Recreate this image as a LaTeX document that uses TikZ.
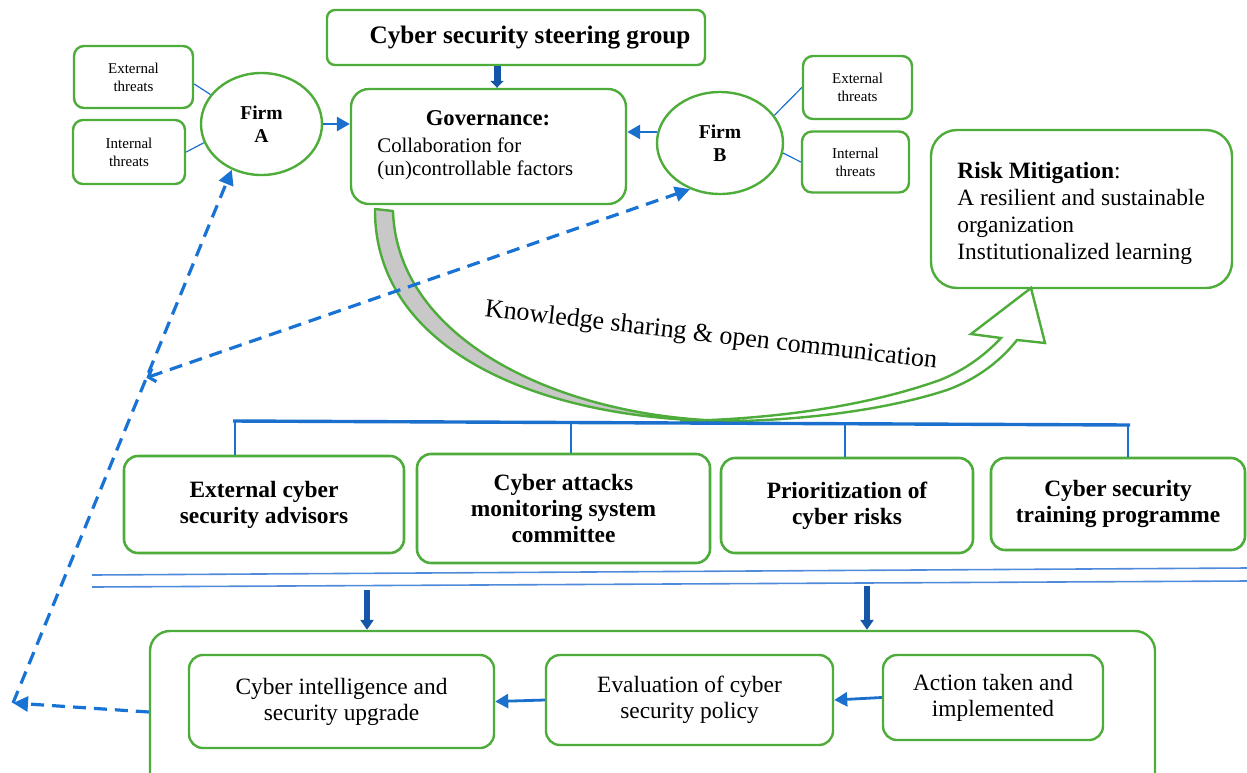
\documentclass[tikz,border=0pt]{standalone}
\usepackage{fontspec}
\setmainfont{Liberation Serif}
\usetikzlibrary{arrows.meta,calc,shapes.geometric}
\definecolor{gboxc}{RGB}{78,172,58}
\definecolor{blueln}{RGB}{28,112,205}
\definecolor{dashc}{RGB}{25,115,212}
\definecolor{dblue}{RGB}{22,86,168}
\definecolor{lblue}{RGB}{80,138,218}
\definecolor{bandgray}{RGB}{200,200,200}
\begin{document}
\begin{tikzpicture}[x=0.5pt,y=-0.5pt,
  gbox/.style={draw=gboxc, line width=1.2pt, rounded corners=6pt, inner sep=0pt, align=center, fill=white},
  firm/.style={draw=gboxc, line width=1.2pt, ellipse, inner sep=0pt, align=center, fill=white, font=\fontsize{9.8}{11.5}\selectfont\bfseries},
  threat/.style={gbox, rounded corners=5pt, font=\fontsize{7.5}{9}\selectfont},
  rowbox/.style={gbox, rounded corners=7pt, line width=1.3pt, font=\fontsize{11.7}{13}\selectfont\bfseries},
  lowbox/.style={gbox, rounded corners=7pt, font=\fontsize{11.7}{13}\selectfont},
  thinline/.style={draw=blueln, line width=0.6pt},
  flowarrow/.style={draw=blueln, line width=1.4pt, -{Triangle[length=6.5pt,width=7pt]}},
  steerarrow/.style={draw=dblue, line width=3.5pt, -{Triangle[length=3.5pt,width=6.5pt]}},
  downarrow/.style={draw=dblue, line width=3pt, -{Triangle[length=5pt,width=6.5pt]}},
  busline/.style={draw=blueln, line width=1.7pt},
  dropline/.style={draw=blueln, line width=1.4pt},
  dline/.style={draw=lblue, line width=0.8pt},
  dashline/.style={draw=dashc, line width=1.6pt, dash pattern=on 6.5pt off 4pt},
  dashtip/.style={-{Triangle[length=7.5pt,width=7.5pt]}},
]
\useasboundingbox (0,0) rectangle (1247,772);
\clip (0,0) rectangle (1247,772);

% top part
\node[gbox, rounded corners=4pt, minimum width=189pt, minimum height=27.5pt, font=\fontsize{12.6}{14}\selectfont\bfseries] (steer) at (516,37.5) {\hspace*{14pt}Cyber security steering group};
\node[gbox, rounded corners=9pt, minimum width=137.5pt, minimum height=57.5pt] (gov) at (488.5,146.5) {};
\node[font=\fontsize{11.3}{13}\selectfont\bfseries, inner sep=0pt] (govtitle) at (488,118) {Governance:};
\node[anchor=west, align=left, inner sep=0pt, font=\fontsize{10.4}{11.5}\selectfont] (govtext) at (377,159) {Collaboration for\\(un)controllable factors};

\node[firm, minimum width=60.5pt, minimum height=51pt] (firmA) at (261.5,124) {Firm\\A};
\node[firm, minimum width=63pt, minimum height=51pt] (firmB) at (720,143) {Firm\\B};

\node[threat, minimum width=59.5pt, minimum height=31pt] (extA) at (133.5,77) {External\\threats};
\node[threat, minimum width=56pt, minimum height=32pt] (intA) at (129,152) {Internal\\threats};
\node[threat, minimum width=54.5pt, minimum height=31.5pt] (extB) at (857.5,87.5) {External\\threats};
\node[threat, minimum width=53.5pt, minimum height=30.5pt] (intB) at (855.5,162) {Internal\\threats};

\node[gbox, rounded corners=13pt, minimum width=150.5pt, minimum height=79pt] (risk) at (1081.5,209) {};
\node[anchor=west, align=left, inner sep=0pt, font=\fontsize{11.7}{13.5}\selectfont] (risktext) at (957,213) {\textbf{Risk Mitigation}:\\A resilient and sustainable\\organization\\Institutionalized learning};

\coordinate (sa) at (497,0);
\draw[steerarrow] (steer.south -| sa) -- (gov.north -| sa);
\draw[flowarrow] (firmA.east) -- (firmA.east -| gov.west);
\draw[flowarrow] (firmB.170) -- (firmB.170 -| gov.east);

\draw[thinline] ($(extA.east)+(0,7)$) -- (firmA.150);
\draw[thinline] (intA.east) -- (firmA.198);
\draw[thinline] (firmB.27) -- (extB.west);
\draw[thinline] (firmB.351) -- (intB.west);

% curved block arrow
\path[draw=gboxc, line width=1.2pt, fill=bandgray, line join=round] (375,209) .. controls (374,350) and (540,421) .. (730,421) .. controls (560,418) and (397,340) .. (393,211) -- cycle;
\path[draw=gboxc, line width=1.2pt, fill=white, line join=miter] (680,421) .. controls (780,424) and (880,412) .. (947,390) .. controls (980,378) and (1003,358) .. (1017,340) -- (1045,343) -- (1031,288) -- (971,334) -- (1001,338) .. controls (985,355) and (965,370) .. (940,380) .. controls (870,405) and (780,419) .. (680,421) -- cycle;
\node[rotate=-6.6, inner sep=0pt, font=\fontsize{13}{15}\selectfont] (know) at (711,336) {Knowledge sharing \& open communication};

% row of boxes
\coordinate (busL) at (233,421);
\coordinate (busR) at (1130,425);
\draw[busline] (busL) -- (busR);
\node[rowbox, minimum width=140pt, minimum height=48.5pt] (b1) at (264,504.5) {External cyber\\security advisors};
\node[rowbox, minimum width=146.5pt, minimum height=54.5pt] (b2) at (563.5,508.5) {Cyber attacks\\monitoring system\\committee};
\node[rowbox, minimum width=126pt, minimum height=47.5pt] (b3) at (847,505.5) {Prioritization of\\cyber risks};
\node[rowbox, minimum width=127pt, minimum height=46pt] (b4) at (1118,504) {Cyber security\\training programme};
\coordinate (d1) at (235,421);
\coordinate (d2) at (571,422.5);
\coordinate (d3) at (845,423.7);
\coordinate (d4) at (1128,425);
\draw[dropline] (d1) -- (d1 |- b1.north);
\draw[dropline] (d2) -- (d2 |- b2.north);
\draw[dropline] (d3) -- (d3 |- b3.north);
\draw[dropline] (d4) -- (d4 |- b4.north);

% double lines
\coordinate (l1a) at (92,575);
\coordinate (l1b) at (1247,568);
\coordinate (l2a) at (92,587);
\coordinate (l2b) at (1247,581);
\draw[dline] (l1a) -- (l1b);
\draw[dline] (l2a) -- (l2b);

% bottom part
\node[gbox, rounded corners=10pt, minimum width=502.5pt, minimum height=81pt] (bigbox) at (652.5,712) {};
\node[lowbox, minimum width=152.5pt, minimum height=46.5pt] (c1) at (341.5,701.5) {Cyber intelligence and\\security upgrade};
\node[lowbox, minimum width=143.5pt, minimum height=45pt] (c2) at (689.5,700) {Evaluation of cyber\\security policy};
\node[lowbox, minimum width=110pt, minimum height=42.5pt] (c3) at (993,697.5) {Action taken and\\implemented};
\coordinate (da1) at (367,590);
\coordinate (da2) at (867,586);
\draw[downarrow] (da1) -- (da1 |- bigbox.north);
\draw[downarrow] (da2) -- (da2 |- bigbox.north);
\draw[flowarrow] (c3.west) -- (c2.east);
\draw[flowarrow] (c2.west) -- (c1.east);

% dashed feedback
\coordinate (corner) at (13,703);
\draw[dashline, dashtip] (bigbox.west) -- (corner);
\draw[dashline, dashtip] (corner) -- (firmA.237);
\coordinate (junc) at ($(corner)!0.61!(firmA.237)$);
\draw[dashline, {Straight Barb[length=3pt,width=7pt]}-{Triangle[length=7.5pt,width=7.5pt]}] (junc) -- (firmB.237);
\end{tikzpicture}
\end{document}
